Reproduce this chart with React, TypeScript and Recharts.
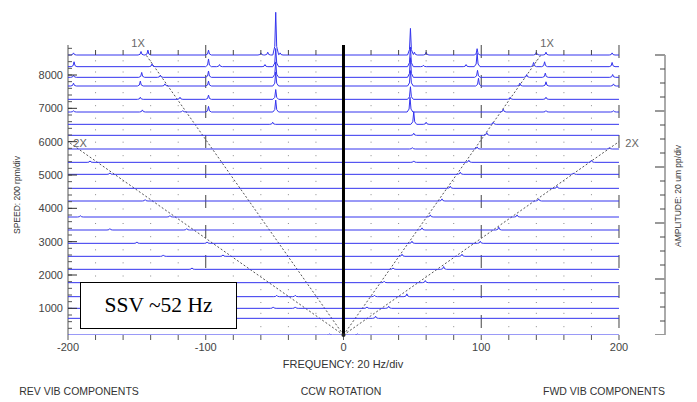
import React from "react";
import {
  ComposedChart,
  Line,
  XAxis,
  YAxis,
  ReferenceLine,
  ReferenceDot,
  Scatter,
} from "recharts";

// trace speeds (rpm), top to bottom
const speeds = [
  8600, 8250, 7930, 7670, 7270, 6890, 6520, 6190, 5780, 5380, 5020, 4600,
  4220, 3740, 3350, 2950, 2560, 2170, 1770, 1350, 1000, 700, 200,
];

// peaks per trace: [frequency Hz, amplitude um pp]
const peaks: [number, number][][] = [
  [[-196, 3], [-147, 5], [-142, 7], [-98, 7], [-60, 3], [-55, 4], [-49.2, 61], [-46, 3], [48.6, 38], [51.5, 4], [60, 4], [97, 9], [140, 4], [147, 4], [195, 3]],
  [[-195.6, 7], [-139, 4], [-98, 11], [-90, 3], [-57, 3], [-49.2, 26], [48.6, 28], [58, 2], [89, 3], [97, 19], [138, 6], [146, 7], [195, 6]],
  [[-196, 3], [-146.5, 7], [-133, 3], [-98, 9], [-49.2, 22], [48.6, 28], [97.3, 10], [133, 4], [146.5, 6], [195.4, 4]],
  [[-196, 4], [-147.5, 7], [-129.6, 3], [-98, 7], [-49.2, 20], [48.6, 22], [98, 11], [128, 4], [147, 6], [196, 3]],
  [[-147.5, 3], [-118.7, 3], [-98, 6], [-49.2, 14], [48.6, 18], [121, 3], [147, 3]],
  [[-196, 2], [-146, 3], [-116.7, 2], [-98, 8], [-49.2, 17], [48.3, 21], [116, 4], [147, 2], [196, 2]],
  [[-51.4, 3], [51, 18], [60, 3], [108.7, 3]],
  [[51, 3], [104, 4]],
  [[50, 2], [97, 3], [193, 2]],
  [[-184, 2], [51, 2], [91, 3], [180, 3]],
  [[-169.6, 2], [84.8, 3], [167, 2]],
  [[77.5, 3], [155, 3]],
  [[-144, 2], [71.5, 3], [141.7, 3]],
  [[-191, 2], [-126, 2], [63, 3], [126, 3]],
  [[-169.6, 2], [-113.8, 2], [57, 3], [112.7, 4]],
  [[-150, 2], [-99, 2], [49.7, 3], [99.3, 3]],
  [[-130.8, 2], [-87.5, 2], [42.5, 3], [86, 3]],
  [[-110, 2], [36, 2], [72.7, 4]],
  [[29.5, 2], [59.4, 3]],
  [[-48.5, 2], [-35, 2], [22.5, 2], [46, 4]],
  [[-51, 2], [-35, 2], [17, 2], [32.8, 3]],
  [[23.3, 3]],
  [[-10, 1.5], [10, 1.5]],
];

const freqTicks = [
  -200, -180, -160, -140, -120, -100, -80, -60, -40, -20, 0, 20, 40, 60, 80,
  100, 120, 140, 160, 180, 200,
];
const freqMajor = [-200, -100, 0, 100, 200];
const speedTicks = [1000, 2000, 3000, 4000, 5000, 6000, 7000, 8000];
const ampTicks = [
  0, 20, 40, 60, 80, 100, 120, 140, 160, 180, 200, 220, 240, 260, 280, 300,
  320, 340, 360, 380, 400,
];
const ampMajorTicks = [0, 80, 160, 240, 320, 400];
const orders = [1, 2];
const orderTopSpeeds = [8600, 6000];

const SPEED_MIN = 200;
const SPEED_MAX = 9950;
const AXIS_TOP = 8900;
const RPM_PER_UM = 21;
const FREQ_MAX = 233.4;
const PEAK_W = 0.7;

const speedMinorTicks: number[] = [];
for (let s = 400; s <= 8800; s += 200) speedMinorTicks.push(s);

const peakShape = (d: number) => {
  const t = Math.abs(d) / PEAK_W;
  if (t >= 3) return 0;
  if (t >= 1) return (0.2 * (3 - t)) / 2;
  return 1 - 0.8 * t;
};

const buildTrace = (speed: number, list: [number, number][]) => {
  const xs = new Set<number>([-200, 200]);
  list.forEach(([f]) => [-3, -1, 0, 1, 3].forEach((k) => xs.add(f + k * PEAK_W)));
  return [...xs]
    .filter((x) => x >= -200 && x <= 200)
    .sort((a, b) => a - b)
    .map((x) => ({
      x,
      y: speed + RPM_PER_UM * list.reduce((s, [f, a]) => s + a * peakShape(x - f), 0),
    }));
};

const traces = speeds.map((s, i) => buildTrace(s, peaks[i]));

const gridDots: { x: number; y: number }[] = [];
freqTicks
  .filter((f) => !freqMajor.includes(f))
  .forEach((f) => {
    for (let i = 0; i < speeds.length - 1; i++) {
      gridDots.push({ x: f, y: (speeds[i] + speeds[i + 1]) / 2 });
    }
  });
const topTicks = freqTicks
  .filter((f) => !freqMajor.includes(f))
  .map((f) => ({ x: f, y: speeds[0] }));

const leftMinor = speedMinorTicks.map((y) => ({ x: -200, y }));
const leftMajor = speedTicks.map((y) => ({ x: -200, y }));
const rightMinor = ampTicks.map((y) => ({ x: FREQ_MAX, y }));
const rightMajor = ampMajorTicks.map((y) => ({ x: FREQ_MAX, y }));

const font = "'Liberation Sans', Arial, sans-serif";

const tickMark =
  (dx1: number, dx2: number, stroke: string, w = 1) =>
  (p: any) =>
    (
      <line
        x1={p.cx + dx1}
        x2={p.cx + dx2}
        y1={p.cy}
        y2={p.cy}
        stroke={stroke}
        strokeWidth={w}
      />
    );

const txt = (
  left: number,
  top: number,
  text: string,
  size: number,
  color = "#333",
  rotate = 0
) => (
  <div
    style={{
      position: "absolute",
      left,
      top,
      transform: `translate(-50%, -50%) rotate(${rotate}deg)`,
      whiteSpace: "nowrap",
      fontFamily: font,
      fontSize: size,
      color,
      lineHeight: 1,
    }}
  >
    {text}
  </div>
);

export default function App() {
  return (
    <div
      style={{
        position: "absolute",
        left: 0,
        top: 0,
        width: 697,
        height: 402,
        background: "#fff",
      }}
    >
      <ComposedChart
        width={697}
        height={402}
        margin={{ top: 10, right: 32, bottom: 37, left: 8 }}
      >
        <XAxis
          type="number"
          dataKey="x"
          domain={[-200, FREQ_MAX]}
          allowDataOverflow
          ticks={freqTicks}
          interval={0}
          tickFormatter={(v) => (freqMajor.includes(v) ? String(v) : "")}
          axisLine={false}
          tickSize={5}
          tickMargin={3}
          height={30}
          tickLine={{ stroke: "#555" }}
          tick={{ fill: "#444", fontSize: 11, fontFamily: font }}
        />
        <YAxis
          type="number"
          domain={[SPEED_MIN, SPEED_MAX]}
          allowDataOverflow
          ticks={speedTicks}
          interval={0}
          width={60}
          axisLine={false}
          tickLine={false}
          tickSize={0}
          tickMargin={5}
          tick={{ fill: "#444", fontSize: 11, fontFamily: font }}
        />
        <YAxis
          yAxisId="amp"
          orientation="right"
          type="number"
          domain={[0, (SPEED_MAX - SPEED_MIN) / RPM_PER_UM]}
          allowDataOverflow
          hide
        />

        <Scatter
          data={gridDots}
          dataKey="y"
          isAnimationActive={false}
          shape={(p: any) => (
            <rect x={p.cx - 0.5} y={p.cy - 0.5} width={1} height={1} fill="#8a8a8a" />
          )}
        />
        <Scatter
          data={topTicks}
          dataKey="y"
          isAnimationActive={false}
          shape={(p: any) => (
            <line x1={p.cx} x2={p.cx} y1={p.cy - 5} y2={p.cy} stroke="#444" />
          )}
        />
        <Scatter data={leftMinor} dataKey="y" isAnimationActive={false} shape={tickMark(0, 4, "#555")} />
        <Scatter data={leftMajor} dataKey="y" isAnimationActive={false} shape={tickMark(-3, 9, "#333")} />
        <Scatter yAxisId="amp" data={rightMinor} dataKey="y" isAnimationActive={false} shape={tickMark(-5, 0, "#444")} />
        <Scatter yAxisId="amp" data={rightMajor} dataKey="y" isAnimationActive={false} shape={tickMark(-10, 0, "#999", 2)} />

        {[-100, 100, 200].map((f) => (
          <ReferenceLine
            key={"g" + f}
            segment={[
              { x: f, y: AXIS_TOP },
              { x: f, y: SPEED_MIN },
            ]}
            stroke="#444"
            strokeDasharray="13 17"
          />
        ))}
        <ReferenceLine
          segment={[
            { x: -200, y: AXIS_TOP },
            { x: -200, y: SPEED_MIN },
          ]}
          stroke="#555"
        />
        <ReferenceLine
          yAxisId="amp"
          segment={[
            { x: FREQ_MAX, y: 0 },
            { x: FREQ_MAX, y: 400 },
          ]}
          stroke="#aaa"
          strokeWidth={2}
        />

        {orders.map((o, i) =>
          [-1, 1].map((side) => (
            <ReferenceLine
              key={`o${o}${side}`}
              segment={[
                { x: 0, y: SPEED_MIN },
                { x: (side * o * orderTopSpeeds[i]) / 60, y: orderTopSpeeds[i] },
              ]}
              stroke="#555"
              strokeDasharray="2 2"
            />
          ))
        )}

        {traces.map((d, i) => (
          <Line
            key={i}
            data={d}
            dataKey="y"
            type="linear"
            stroke="#3434ee"
            strokeWidth={1}
            dot={false}
            activeDot={false}
            isAnimationActive={false}
          />
        ))}

        <ReferenceLine
          segment={[
            { x: 0, y: AXIS_TOP },
            { x: 0, y: SPEED_MIN },
          ]}
          stroke="#000"
          strokeWidth={3}
        />
        <ReferenceDot x={0} y={SPEED_MIN} r={2} fill="#222" stroke="none" />
      </ComposedChart>

      {txt(17, 195, "SPEED: 200 rpm/div", 8.5, "#333", -90)}
      {txt(678, 196, "AMPLITUDE: 20 um pp/div", 8.5, "#333", -90)}
      {txt(343, 364, "FREQUENCY: 20 Hz/div", 11)}
      {txt(79, 391, "REV VIB COMPONENTS", 10.5)}
      {txt(341, 391, "CCW ROTATION", 10.5)}
      {txt(604, 391, "FWD VIB COMPONENTS", 10.5)}
      {txt(138, 43, "1X", 11, "#666")}
      {txt(547, 43, "1X", 11, "#666")}
      {txt(80, 142.5, "2X", 11, "#666")}
      {txt(632, 142.5, "2X", 11, "#666")}

      <div
        style={{
          position: "absolute",
          left: 80,
          top: 282,
          width: 157,
          height: 47,
          boxSizing: "border-box",
          border: "1.5px solid #000",
          background: "#fff",
          display: "flex",
          alignItems: "center",
          justifyContent: "center",
          fontFamily: "'Liberation Serif', 'Times New Roman', serif",
          fontSize: 21.5,
          color: "#000",
        }}
      >
        SSV ~52 Hz
      </div>
    </div>
  );
}
